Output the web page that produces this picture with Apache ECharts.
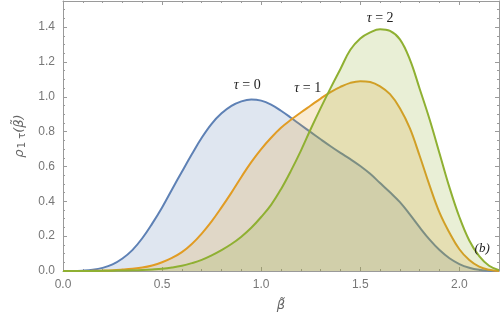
<!DOCTYPE html>
<html>
<head>
<meta charset="utf-8">
<script src="https://cdn.jsdelivr.net/npm/echarts@6/dist/echarts.min.js"></script>
<style>
html,body{margin:0;padding:0;background:#fff;}
#main{width:500px;height:328px;}
</style>
</head>
<body>
<div id="main"></div>
<script>
var xs = [0, 0.05, 0.1, 0.15, 0.2, 0.25, 0.3, 0.35, 0.4, 0.45, 0.5, 0.55, 0.6, 0.65, 0.7, 0.75, 0.8, 0.85, 0.9, 0.95,
	1.0, 1.05, 1.1, 1.15, 1.2, 1.25, 1.3, 1.35, 1.4, 1.45, 1.5, 1.55, 1.6, 1.65, 1.7, 1.75, 1.8, 1.85, 1.9, 1.95,
	2.0, 2.05, 2.1, 2.15, 2.2];
var tau0 = [0, 0, 0.002, 0.007, 0.018, 0.038, 0.072, 0.12, 0.188, 0.272, 0.365, 0.468, 0.57, 0.67, 0.765, 0.845, 0.905, 0.948, 0.974, 0.985,
	0.978, 0.955, 0.92, 0.88, 0.838, 0.797, 0.756, 0.716, 0.678, 0.642, 0.603, 0.558, 0.505, 0.452, 0.395, 0.325, 0.25, 0.18, 0.12, 0.073,
	0.04, 0.019, 0.007, 0.002, 0];
var tau1 = [0, 0, 0, 0.001, 0.002, 0.004, 0.008, 0.013, 0.02, 0.032, 0.05, 0.075, 0.108, 0.155, 0.215, 0.285, 0.365, 0.45, 0.54, 0.625,
	0.70, 0.765, 0.822, 0.868, 0.91, 0.95, 0.99, 1.027, 1.057, 1.08, 1.09, 1.085, 1.06, 1.015, 0.935, 0.82, 0.66, 0.49, 0.335, 0.22,
	0.125, 0.063, 0.025, 0.007, 0];
var tau2 = [0, 0, 0, 0, 0.001, 0.002, 0.003, 0.004, 0.006, 0.009, 0.013, 0.02, 0.03, 0.045, 0.064, 0.09, 0.12, 0.155, 0.197, 0.248,
	0.31, 0.38, 0.47, 0.575, 0.69, 0.815, 0.935, 1.05, 1.16, 1.27, 1.335, 1.37, 1.388, 1.378, 1.33, 1.215, 1.045, 0.87, 0.675, 0.48,
	0.31, 0.175, 0.085, 0.03, 0.005];
var names = ['τ = 0', 'τ = 1', 'τ = 2'];
var colors = ['#5e81b5', '#e19c24', '#8fb032'];
// label anchors in data space
var labelPos = [[0.93, 1.065], [1.235, 1.05], [1.6, 1.45]];
var panelTag = '(b)';
var panelPos = [2.115, 0.13];

var chart = echarts.init(document.getElementById('main'));

function pairs(ys){
	var out = [];
	for(var i=0;i<xs.length;i++){ out.push([xs[i], ys[i]]); }
	return out;
}

var axisGray = '#9a9a9a';
var tickStyle = {show:true, inside:true, length:4, lineStyle:{color:axisGray}};

var series = [];
var all = [tau0, tau1, tau2];
for(var s=0;s<3;s++){
	series.push({
		name: names[s],
		type: 'line',
		data: pairs(all[s]),
		smooth: 0.4,
		showSymbol: false,
		symbol: 'none',
		z: 2 + s,
		lineStyle: {color: colors[s], width: 2, join: 'round'},
		areaStyle: {color: colors[s], opacity: 0.2},
		markPoint: {
			symbol: 'circle', symbolSize: 0,
			label: {show:true, position:'inside', formatter: '{t|τ}{n| = ' + s + '}',
				rich: {
					t: {fontFamily:'Liberation Serif', fontStyle:'italic', fontSize:14, color:'#222'},
					n: {fontFamily:'Liberation Serif', fontSize:14, color:'#222'}
				}
			},
			data: [{coord: labelPos[s]}]
		}
	});
}
series.push({
	type: 'line', data: [], silent: true,
	markPoint: {
		symbol: 'circle', symbolSize: 0,
		label: {show:true, position:'inside', formatter: panelTag,
			fontFamily:'Liberation Serif', fontStyle:'italic', fontSize:13, color:'#222'},
		data: [{coord: panelPos}]
	}
});

var option = {
	animation: false,
	grid: {left: 63, right: 1, top: 1, bottom: 57},
	xAxis: [
		{
			type: 'value', min: 0, max: 2.2, interval: 0.5,
			name: 'β̃', nameLocation: 'middle', nameGap: 28,
			nameTextStyle: {fontFamily:'DejaVu Sans', fontStyle:'italic', fontSize:13, color:'#666'},
			axisLine: {show:true, onZero:false, lineStyle:{color:axisGray}},
			axisTick: tickStyle,
			minorTick: {show:true, splitNumber:5, length:2, lineStyle:{color:axisGray}},
			axisLabel: {color:'#777', fontSize:12, fontFamily:'Liberation Sans', showMaxLabel:false,
				formatter: function(v){ return v.toFixed(1); }},
			splitLine: {show:false}
		},
		{
			type: 'value', min: 0, max: 2.2, interval: 0.5, position: 'top',
			axisLine: {show:true, onZero:false, lineStyle:{color:axisGray}},
			axisTick: tickStyle,
			minorTick: {show:true, splitNumber:5, length:2, lineStyle:{color:axisGray}},
			axisLabel: {show:false}, splitLine: {show:false}
		}
	],
	yAxis: [
		{
			type: 'value', min: 0, max: 1.55, interval: 0.2,
			name: '{r|ρ}{s|1 τ}{p|(β̃)}', nameLocation: 'middle', nameGap: 35,
			nameTextStyle: {color:'#666', rich: {
				r: {fontFamily:'DejaVu Sans', fontStyle:'italic', fontSize:13, color:'#666'},
				s: {fontFamily:'DejaVu Sans', fontSize:10, color:'#666', verticalAlign:'bottom', padding:[6,0,0,1]},
				p: {fontFamily:'DejaVu Sans', fontStyle:'italic', fontSize:13, color:'#666'}
			}},
			axisLine: {show:true, onZero:false, lineStyle:{color:axisGray}},
			axisTick: tickStyle,
			minorTick: {show:true, splitNumber:4, length:2, lineStyle:{color:axisGray}},
			axisLabel: {color:'#777', fontSize:12, fontFamily:'Liberation Sans', showMaxLabel:false,
				formatter: function(v){ return v.toFixed(1); }},
			splitLine: {show:false}
		},
		{
			type: 'value', min: 0, max: 1.55, interval: 0.2, position: 'right',
			axisLine: {show:true, onZero:false, lineStyle:{color:axisGray}},
			axisTick: tickStyle,
			minorTick: {show:true, splitNumber:4, length:2, lineStyle:{color:axisGray}},
			axisLabel: {show:false}, splitLine: {show:false}
		}
	],
	series: series
};
chart.setOption(option);
</script>
</body>
</html>
